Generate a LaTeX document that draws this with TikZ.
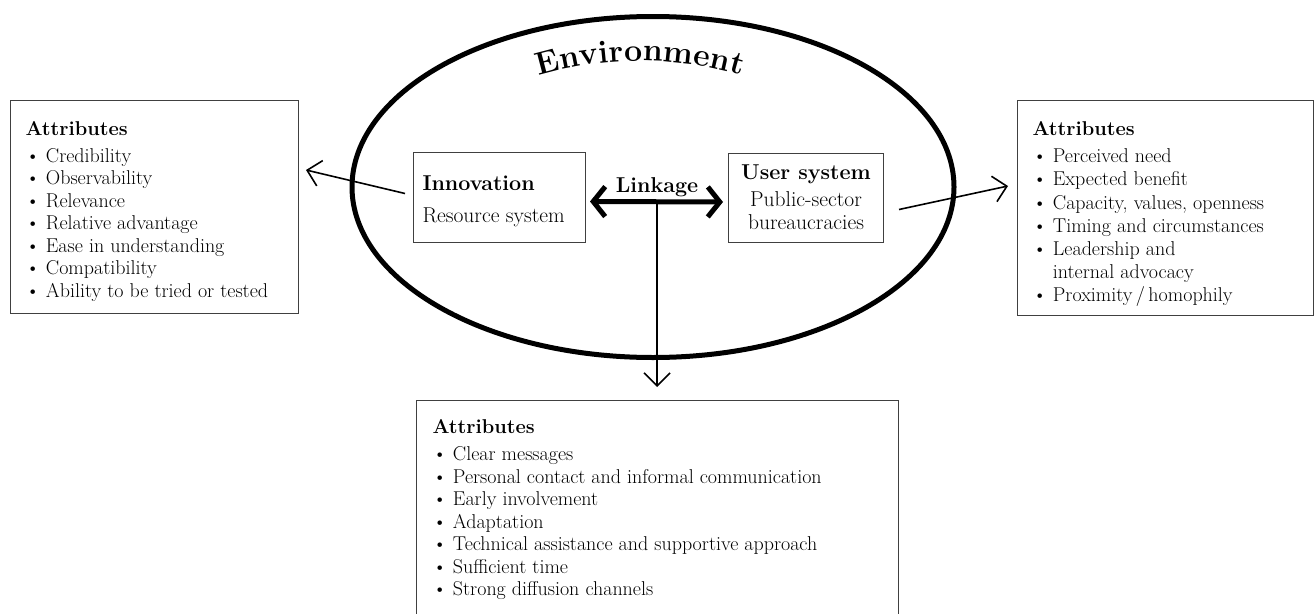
\documentclass[tikz,border=0pt]{standalone}
\usepackage{amsmath}
\usepackage{tikz}
\usetikzlibrary{calc,arrows.meta,shapes.geometric,decorations.text}

\begin{document}
\begin{tikzpicture}[x=1pt,y=-1pt,
    frame/.style={draw=black!75, line width=1pt, inner sep=0pt, anchor=north west},
    thinarrow/.style={line width=1.6pt, -{Straight Barb[length=13pt,width=26pt]}},
    linkarrow/.style={line width=5pt, {Straight Barb[length=12pt,width=30pt]}-{Straight Barb[length=12pt,width=30pt]}}]
    \newcommand{\bodyfont}{\fontsize{20}{22.5}\selectfont}
    \newcommand{\boxfont}{\fontsize{21.5}{23}\selectfont}
    \newcommand{\pt}{\textbullet\ }
    \useasboundingbox (0,0) rectangle (1314,613);

    % environment
    \node[draw, ellipse, line width=5pt, minimum width=602pt, minimum height=341pt, inner sep=0pt] (env) at (653,187) {};
    \path[decorate, decoration={text along path, text align=center,
        text={|\fontsize{32}{34}\selectfont\bfseries|Environment}}]
        (640,418) ++(115:357pt) arc[start angle=115, end angle=65, radius=357pt];

    % the two systems
    \node[frame] (innov) at (413,152) {\parbox[c][90pt][t]{172pt}{\leftskip=9pt\boxfont
        \rule{0pt}{38pt}\textbf{Innovation}\\[9pt] Resource system}};
    \node[frame] (user) at (728,153) {\parbox[c][89pt][t]{155pt}{\centering\boxfont
        \rule{0pt}{26pt}\textbf{User system}\\[4pt] Public-sector\\ bureaucracies}};

    \draw[linkarrow, shorten <=4pt, shorten >=5pt] ([yshift=-4pt]innov.east) --
        node[pos=.5, anchor=base, yshift=9pt] (linklbl) {\boxfont\bfseries Linkage}
        coordinate[pos=.5] (hub) ([yshift=-4pt]user.west);

    % attributes
    \node[frame] (leftattr) at (10,100) {\parbox[c][213pt][t]{288pt}{\leftskip=15pt\bodyfont
        \rule{0pt}{35pt}\textbf{Attributes}\\[4pt]
        \pt Credibility\\
        \pt Observability\\
        \pt Relevance\\
        \pt Relative advantage\\
        \pt Ease in understanding\\
        \pt Compatibility\\
        \pt Ability to be tried or tested}};
    \node[frame] (rightattr) at (1017,100) {\parbox[c][215pt][t]{296pt}{\leftskip=15pt\fontsize{20}{23.2}\selectfont
        \rule{0pt}{35pt}\textbf{Attributes}\\[4pt]
        \pt Perceived need\\
        \pt Expected benefit\\
        \pt Capacity, values, openness\\
        \pt Timing and circumstances\\
        \pt Leadership and\\
        \hphantom{\pt}internal advocacy\\
        \pt Proximity\,/\,homophily}};
    \node[frame] (bottomattr) at (416,400) {\parbox[c][240pt][t]{482pt}{\leftskip=16pt\bodyfont
        \rule{0pt}{33pt}\textbf{Attributes}\\[4.5pt]
        \pt Clear messages\\
        \pt Personal contact and informal communication\\
        \pt Early involvement\\
        \pt Adaptation\\
        \pt Technical assistance and supportive approach\\
        \pt Sufficient time\\
        \pt Strong diffusion channels}};

    % arrows to the attributes
    \draw[thinarrow] ($(innov.west)+(-8,-4)$) -- ($(leftattr.east)+(7,-37)$);
    \draw[thinarrow] ($(user.east)+(15,11.5)$) -- ($(rightattr.west)+(-9,-22)$);
    \draw[thinarrow, shorten >=13pt] (hub) -- (hub |- bottomattr.north);
\end{tikzpicture}
\end{document}
